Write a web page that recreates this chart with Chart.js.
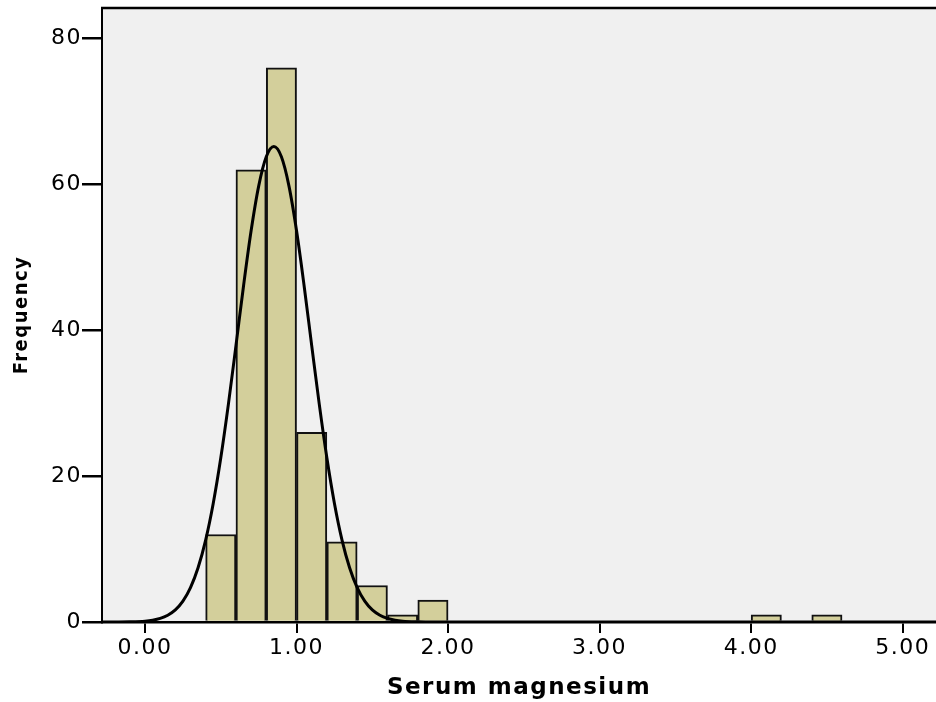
<!DOCTYPE html>
<html>
<head>
<meta charset="utf-8">
<script src="https://cdn.jsdelivr.net/npm/chart.js@4"></script>
<style>
  html, body { margin: 0; padding: 0; background: #ffffff; }
  #wrap { width: 936px; height: 702px; position: relative; }
</style>
</head>
<body>
<div id="wrap"><canvas id="c"></canvas></div>
<script>
// Histogram bins (centers, width 0.2) and counts
const binCenters = [0.5, 0.7, 0.9, 1.1, 1.3, 1.5, 1.7, 1.9, 4.1, 4.5];
const frequencies = [12, 62, 76, 26, 11, 5, 1, 3, 1, 1];

// Normal curve points
const curveX = [-0.3, -0.2, -0.1, 0.0, 0.05, 0.1, 0.15, 0.2, 0.25, 0.3, 0.35, 0.4, 0.45, 0.5, 0.55, 0.6, 0.65, 0.7, 0.75, 0.8, 0.85, 0.9, 0.95, 1.0, 1.05, 1.1, 1.15, 1.2, 1.25, 1.3, 1.35, 1.4, 1.45, 1.5, 1.55, 1.6, 1.65, 1.7, 1.8, 1.9, 2.0, 3.0, 4.0, 5.0, 5.3];
const curveY = [0, 0.01, 0.03, 0.12, 0.25, 0.49, 0.93, 1.66, 2.86, 4.72, 7.44, 11.24, 16.26, 22.52, 29.85, 37.9, 46.08, 53.64, 59.78, 63.8, 65.2, 63.8, 59.78, 53.64, 46.08, 37.9, 29.85, 22.52, 16.26, 11.24, 7.44, 4.72, 2.86, 1.66, 0.93, 0.49, 0.25, 0.12, 0.03, 0.0, 0, 0, 0, 0, 0];

const xTickValues = [0, 1, 2, 3, 4, 5];
const yTickValues = [0, 20, 40, 60, 80];

const xTitle = 'Serum magnesium';
const yTitle = 'Frequency';

const barData = binCenters.map((x, i) => ({ x: x, y: frequencies[i] }));
const curveData = curveX.map((x, i) => ({ x: x, y: curveY[i] }));

const spacingPlugin = {
  id: 'spacing',
  beforeUpdate(chart) { chart.ctx.letterSpacing = '1.5px'; },
  beforeDraw(chart) { chart.ctx.letterSpacing = '1.5px'; }
};

const framePlugin = {
  id: 'frame',
  beforeDraw(chart) {
    const { ctx, chartArea: a } = chart;
    ctx.save();
    ctx.fillStyle = '#f0f0f0';
    ctx.fillRect(a.left, a.top, a.right - a.left, a.bottom - a.top);
    ctx.restore();
  },
  afterDraw(chart) {
    const { ctx, chartArea: a } = chart;
    ctx.save();
    ctx.strokeStyle = '#000000';
    ctx.lineWidth = 2.5;
    ctx.beginPath();
    ctx.moveTo(a.left - 1, a.top);
    ctx.lineTo(a.right, a.top);
    ctx.stroke();
    ctx.restore();
  }
};

new Chart(document.getElementById('c'), {
  type: 'bar',
  data: {
    datasets: [
      {
        type: 'line',
        data: curveData,
        borderColor: '#000000',
        borderWidth: 3,
        pointRadius: 0,
        fill: false,
        cubicInterpolationMode: 'monotone',
        order: 0
      },
      {
        type: 'bar',
        data: barData,
        backgroundColor: '#d3cf9b',
        borderColor: '#111111',
        borderWidth: 2,
        barPercentage: 1.0,
        categoryPercentage: 1.0,
        order: 1
      }
    ]
  },
  options: {
    responsive: true,
    maintainAspectRatio: false,
    animation: false,
    layout: { padding: { top: 8, left: 0, right: 0, bottom: 0 } },
    plugins: {
      legend: { display: false },
      tooltip: { enabled: false }
    },
    scales: {
      x: {
        type: 'linear',
        min: -0.284,
        max: 5.22,
        offset: false,
        afterFit(scale) { scale.height = 80; scale.paddingLeft = 0; scale.paddingRight = 0; },
        afterBuildTicks(scale) { scale.ticks = xTickValues.map(v => ({ value: v })); },
        ticks: {
          color: '#000000',
          font: { family: 'DejaVu Sans', size: 22 },
          padding: 2,
          maxRotation: 0,
          autoSkip: false,
          callback: (v) => Number(v).toFixed(2)
        },
        grid: {
          display: true,
          offset: false,
          drawOnChartArea: false,
          drawTicks: true,
          tickLength: 11,
          color: '#000000',
          lineWidth: 2
        },
        border: { display: true, color: '#000000', width: 2.5 },
        title: {
          display: true,
          text: xTitle,
          color: '#000000',
          font: { family: 'DejaVu Sans', size: 23, weight: 'bold' },
          padding: { top: 3, bottom: 0 }
        }
      },
      y: {
        type: 'linear',
        min: 0,
        max: 84.2,
        afterFit(scale) { scale.width = 102; scale.paddingTop = 0; scale.paddingBottom = 0; },
        afterBuildTicks(scale) { scale.ticks = yTickValues.map(v => ({ value: v })); },
        ticks: {
          color: '#000000',
          font: { family: 'DejaVu Sans', size: 22 },
          padding: 0,
          autoSkip: false
        },
        grid: {
          display: true,
          offset: false,
          drawOnChartArea: false,
          drawTicks: true,
          tickLength: 20,
          color: '#000000',
          lineWidth: 2.5
        },
        border: { display: true, color: '#000000', width: 2 },
        title: {
          display: true,
          text: yTitle,
          color: '#000000',
          font: { family: "'DejaVu Sans Condensed', 'DejaVu Sans', sans-serif", size: 20, weight: 'bold' },
          padding: { top: 10, bottom: 0 }
        }
      }
    }
  },
  plugins: [spacingPlugin, framePlugin]
});
</script>
</body>
</html>
